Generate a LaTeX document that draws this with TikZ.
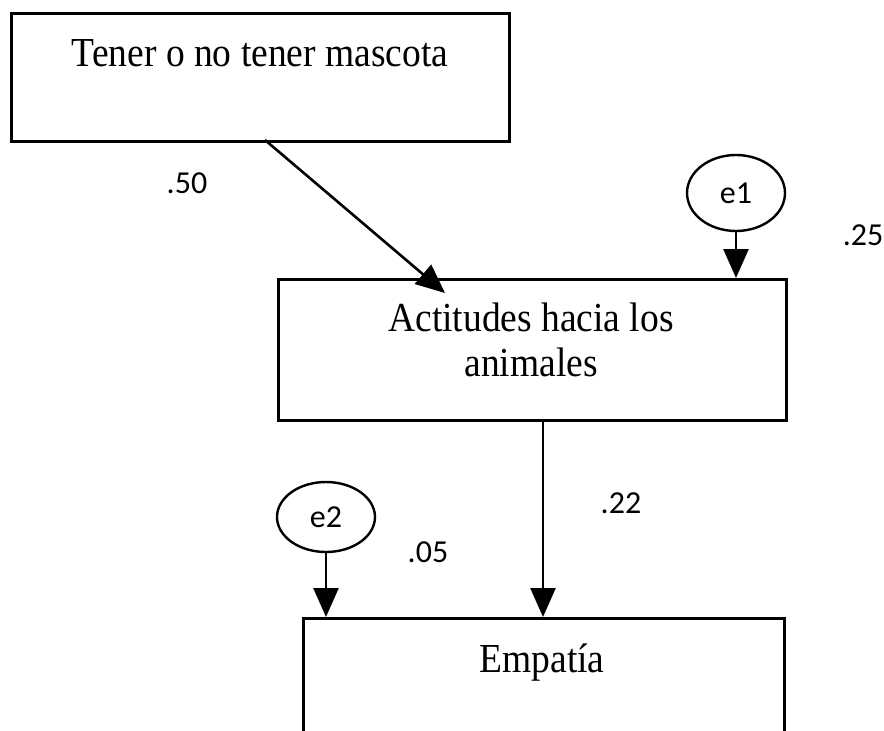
\documentclass[tikz,border=0pt]{standalone}
\usepackage{fontspec}
\setmainfont{Liberation Serif}
\newfontfamily\calib{Carlito}
\usetikzlibrary{arrows.meta,shapes.geometric}
\tikzset{
  boxnode/.style={draw=black, line width=3pt, minimum width=#1, anchor=north west, inner sep=0pt},
  err/.style={draw=black, line width=2.4pt, ellipse, minimum width=98pt, minimum height=76pt, inner sep=0pt, font=\calib\fontsize{32}{36}\selectfont},
  txt/.style={font=\fontsize{37.5}{45}\selectfont, align=center, inner sep=0pt},
  coef/.style={font=\calib\fontsize{32}{36}\selectfont, inner sep=0pt},
  arr/.style={line width=2.6pt, -{Triangle[length=29pt,width=25pt]}}
}
\newcommand{\tall}[1]{\scalebox{1}[1.1]{#1}}
\begin{document}
\begin{tikzpicture}[x=1pt,y=-1pt]
\clip (0,0) rectangle (884,731);
\fill[white] (0,0) rectangle (884,731);
% boxes
\node[boxnode=498pt, minimum height=128pt] (top) at (10,12) {};
\node[boxnode=508pt, minimum height=141pt] (mid) at (277,278) {};
\node[boxnode=481pt, minimum height=160pt] (bot) at (302,617) {};
% box texts
\node[txt, anchor=base] (ttop) at (260,66) {\tall{Tener o no tener mascota}};
\node[txt, anchor=base] (tmid1) at (531,331) {\tall{Actitudes hacia los}};
\node[txt, anchor=base] (tmid2) at (531,376) {\tall{animales}};
\node[txt, anchor=base] (tbot) at (542,672) {\tall{Empatía}};
% error terms
\node[err] (e1) at (736,193) {e1};
\node[err, minimum height=70pt] (e2) at (326,517) {e2};
% coefficients
\node[coef] (c50) at (187,183) {.50};
\node[coef] (c25) at (863,235) {.25};
\node[coef] (c22) at (621,503) {.22};
\node[coef] (c05) at (428,552) {.05};
% connector ends
\coordinate (s1) at (265,140);
\coordinate (t1) at (445,293);
% connectors
\draw[arr] (s1) -- (t1);
\draw[arr] (e1.south) -- (e1.south |- mid.north);
\draw[arr] (mid.south -| 543,0) -- (bot.north -| 543,0);
\draw[arr] (e2.south) -- (e2.south |- bot.north);
\end{tikzpicture}
\end{document}
